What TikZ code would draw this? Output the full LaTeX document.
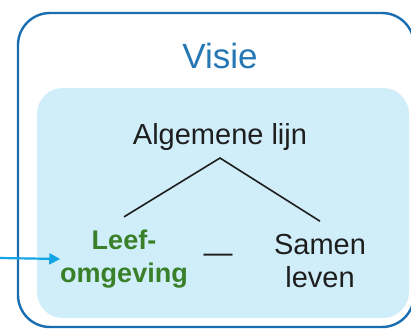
\documentclass[tikz,border=0pt]{standalone}
\usepackage{fontspec}
\setmainfont{Liberation Sans}
\usepackage{tikz}
\usetikzlibrary{positioning,arrows.meta}
\definecolor{frameblue}{RGB}{25,110,178}
\definecolor{visieblue}{RGB}{38,120,180}
\definecolor{wash}{RGB}{207,238,250}
\definecolor{leafgreen}{RGB}{58,128,40}
\definecolor{feedcyan}{RGB}{20,165,230}
\definecolor{ink}{RGB}{30,30,30}

\begin{document}
\begin{tikzpicture}[x=1pt, y=-1pt,
		pillar/.style={align=center, inner xsep=0pt, inner ysep=13pt, outer sep=0pt,
			font=\fontsize{29}{33}\selectfont},
		branch/.style={line width=1.6pt, ink},
		feed/.style={-{Triangle[length=11pt, width=11pt]}, line width=2.2pt, feedcyan}]
		\clip (0,0) rectangle (411,329);
		\fill[white] (0,0) rectangle (411,329);
		% frames
		\draw[frameblue, line width=2.4pt, rounded corners=32pt] (18,13) rectangle (414,327);
		\fill[wash, rounded corners=26pt] (37,88) rectangle (409,318);
		% texts
		\node[anchor=base, visieblue, font=\fontsize{35}{40}\selectfont] (visie) at (220,68) {Visie};
		\node[anchor=base, ink, inner ysep=8pt, outer sep=0pt, font=\fontsize{29}{33}\selectfont]
			(lijn) at (220,144) {Algemene lijn};
		\node[pillar, leafgreen, font=\fontsize{27}{33}\selectfont\bfseries] (leef) at (124,259)
			{Leef-\\omgeving};
		\node[pillar, ink] (samen) at (320,261) {Samen\\leven};
		\node[ink, font=\fontsize{29}{33}\selectfont] (dash) at (218,258) {—};
		\coordinate (src) at (0,258);
		% connectors
		\draw[branch] (leef.north) -- (lijn.south) -- (samen.north);
		\draw[feed] (src) -- (leef.west);
	\end{tikzpicture}
\end{document}
